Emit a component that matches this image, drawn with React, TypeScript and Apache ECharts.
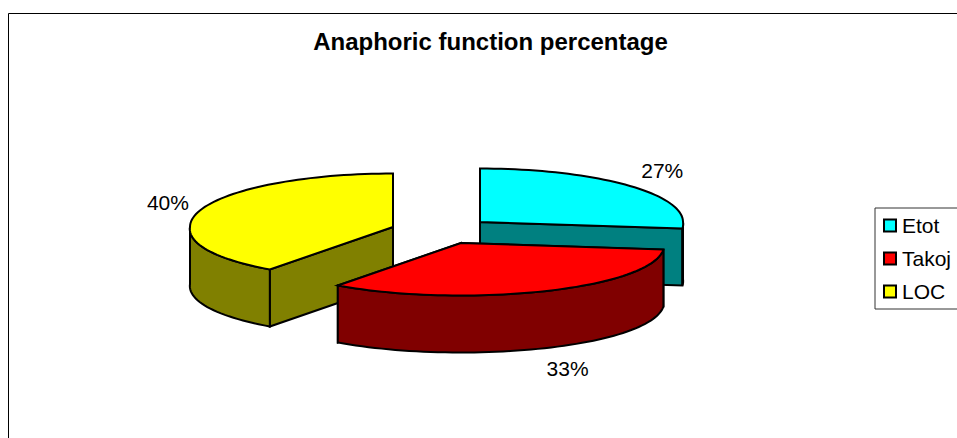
import React, { useEffect, useRef } from "react";
import * as echarts from "echarts";

const categories = ["Etot", "Takoj", "LOC"];
const percentages = [27, 33, 40];
const topColors = ["#00FFFF", "#FF0000", "#FFFF00"];
const wallColors = ["#008080", "#800000", "#808000"];

// Where each exploded wedge sits and where its label goes relative to the rim.
const centers = [
  [480, 222],
  [461, 243],
  [393, 227],
];
const labelOffsets = [
  [30, -16],
  [23, 77],
  [-32, -8],
];
const drawOrder = [2, 0, 1];

const RX = 203;
const RY_BACK = 53.5;
const RY_FRONT = 52.5;
const DEPTH = 57;
const PERSPECTIVE = 0.04;

// Clock angle (degrees from 12 o'clock) to the tilted disc's plane, nearer points a little wider.
function rim(angle: number, cx: number, cy: number, dy = 0): number[] {
  const a = (angle * Math.PI) / 180;
  const ny = -Math.cos(a);
  const x = RX * Math.sin(a) * (1 + PERSPECTIVE * Math.max(ny, 0));
  const y = ny * (ny > 0 ? RY_FRONT : RY_BACK);
  return [cx + x, cy + y + dy];
}

function arc(from: number, to: number, cx: number, cy: number, dy = 0): number[][] {
  const n = Math.max(2, Math.ceil(Math.abs(to - from) / 2));
  const pts: number[][] = [];
  for (let i = 0; i <= n; i++) pts.push(rim(from + ((to - from) * i) / n, cx, cy, dy));
  return pts;
}

function startAngle(index: number): number {
  let sum = 0;
  for (let i = 0; i < index; i++) sum += percentages[i];
  return (sum / 100) * 360;
}

function wedge(index: number) {
  return (_params: any, api: any) => {
    const value = api.value(0);
    const from = startAngle(index);
    const to = from + (value / 100) * 360;
    const [cx, cy] = centers[index];
    const line = { stroke: "#000", lineWidth: 2, lineJoin: "miter" as const };
    const children: any[] = [];
    const polygon = (points: number[][], fill: string) =>
      children.push({ type: "polygon", shape: { points }, style: { fill, ...line } });

    // Cut faces that turn towards the viewer, plus the back edge at 12 o'clock.
    for (const edge of [from, to]) {
      const a = rim(edge, cx, cy);
      if (a[1] >= cy || Math.abs(a[0] - cx) < 1) {
        polygon([[cx, cy], a, [a[0], a[1] + DEPTH], [cx, cy + DEPTH]], wallColors[index]);
      }
    }

    // Outer wall: only the rim below the disc's horizontal diameter shows.
    if (from < 90 && to > 90) {
      polygon([...arc(to, 90, cx, cy), ...arc(90, to, cx, cy, DEPTH)], "#000");
    } else {
      const wallTo = Math.min(to, 270);
      polygon([...arc(from, wallTo, cx, cy), ...arc(wallTo, from, cx, cy, DEPTH)], wallColors[index]);
    }

    // Top face.
    polygon([[cx, cy], ...arc(from, to, cx, cy)], topColors[index]);

    // Percentage label placed from the slice's middle angle.
    const mid = rim((from + to) / 2, cx, cy);
    children.push({
      type: "text",
      style: {
        x: mid[0] + labelOffsets[index][0],
        y: mid[1] + labelOffsets[index][1],
        text: `${value}%`,
        fill: "#000",
        font: "21px 'Liberation Sans', Arial, sans-serif",
        align: "center",
        verticalAlign: "middle",
      },
    });
    return { type: "group", children };
  };
}

export default function App() {
  const ref = useRef<HTMLDivElement>(null);
  useEffect(() => {
    if (!ref.current) return;
    const chart = echarts.init(ref.current, undefined, { renderer: "svg" });
    chart.setOption({
      animation: false,
      backgroundColor: "#fff",
      title: {
        text: "Anaphoric function percentage",
        left: 485.5,
        top: 24,
        textAlign: "center",
        textStyle: {
          fontFamily: "'Liberation Sans', Arial, sans-serif",
          fontWeight: "bold",
          fontSize: 24,
          color: "#000",
        },
      },
      legend: {
        orient: "vertical",
        left: 875,
        top: 208,
        data: categories,
        icon: "rect",
        itemWidth: 12,
        itemHeight: 12,
        itemGap: 12,
        padding: [7, 30, 7, 8],
        borderColor: "#333",
        borderWidth: 1,
        backgroundColor: "#fff",
        selectedMode: false,
        textStyle: {
          fontFamily: "'Liberation Sans', Arial, sans-serif",
          fontSize: 21,
          color: "#000",
          padding: [0, 0, 0, 1],
        },
        itemStyle: { borderColor: "#000", borderWidth: 2 },
      },
      graphic: [
        {
          type: "polyline",
          shape: { points: [[8.5, 438], [8.5, 13.5], [957, 13.5]] },
          style: { stroke: "#000", lineWidth: 1, fill: "none" },
          silent: true,
        },
      ],
      series: drawOrder.map((i) => ({
        type: "custom",
        name: categories[i],
        coordinateSystem: "none",
        z: 2,
        itemStyle: { color: topColors[i] },
        renderItem: wedge(i),
        data: [[percentages[i]]],
      })),
    });
    return () => chart.dispose();
  }, []);
  return <div ref={ref} style={{ position: "fixed", left: 0, top: 0, width: 957, height: 438 }} />;
}
